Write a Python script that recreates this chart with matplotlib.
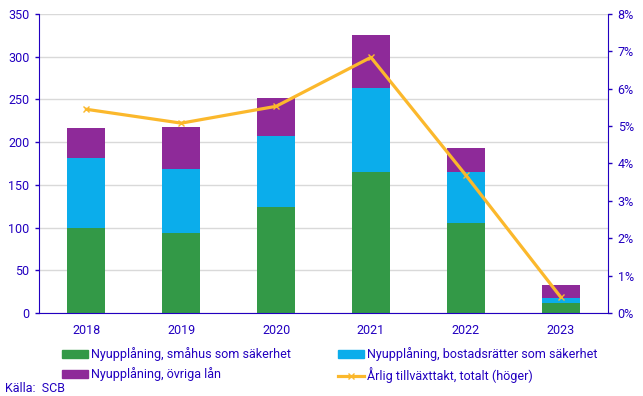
import numpy as np
import matplotlib
matplotlib.use('Agg')
import matplotlib.pyplot as plt
from matplotlib.lines import Line2D
from matplotlib.patches import Patch

plt.rcParams['font.family'] = ['Roboto', 'DejaVu Sans']

years = ['2018', '2019', '2020', '2021', '2022', '2023']
smahus = [99, 94, 124, 165, 105, 12]
bostadsratter = [82, 75, 83, 98, 60, 5]
ovriga = [35, 49, 45, 62, 28, 16]
tillvaxt = [5.45, 5.08, 5.53, 6.84, 3.69, 0.43]

blue = '#2200c0'
green = '#339947'
cyan = '#0badeb'
purple = '#8e2a99'
yellow = '#fbb82c'

fig = plt.figure(figsize=(6.43, 3.96), dpi=100)
ax = fig.add_axes([39 / 643, 1 - 313 / 396, 569 / 643, 299 / 396])

x = np.arange(len(years))
w = 0.4
b1 = np.array(smahus)
b2 = b1 + np.array(bostadsratter)
ax.bar(x, smahus, w, color=green, zorder=2)
ax.bar(x, bostadsratter, w, bottom=b1, color=cyan, zorder=2)
ax.bar(x, ovriga, w, bottom=b2, color=purple, zorder=2)

ax.set_xlim(-0.5, len(years) - 0.5)
ax.set_ylim(0, 350)
ax.set_yticks(range(0, 351, 50))
ax.set_xticks(x)
ax.set_xticklabels(years)
ax.grid(axis='y', color='#d9d9d9', linewidth=1, zorder=0)
ax.set_axisbelow(True)
for s in ['top', 'right']:
    ax.spines[s].set_visible(False)
for s in ['left', 'bottom']:
    ax.spines[s].set_color(blue)
ax.tick_params(axis='y', colors=blue, labelsize=9, length=3, width=1, pad=4)
ax.tick_params(axis='x', colors=blue, labelsize=9, length=0, pad=8)

ax2 = ax.twinx()
ax2.plot(x, tillvaxt, color=yellow, linewidth=2.3, marker='x', markersize=5,
         markeredgewidth=1, zorder=3)
ax2.set_ylim(0, 8)
ax2.set_yticks(range(0, 9))
ax2.set_yticklabels([f'{v}%' for v in range(0, 9)])
for s in ['top', 'left', 'bottom']:
    ax2.spines[s].set_visible(False)
ax2.spines['right'].set_color(blue)
ax2.tick_params(axis='y', colors=blue, labelsize=9, length=3, width=1, pad=4)

# legend in two columns, placed as two separate blocks
labels = ['Nyupplåning, småhus som säkerhet',
          'Nyupplåning, övriga lån',
          'Nyupplåning, bostadsrätter som säkerhet',
          'Årlig tillväxttakt, totalt (höger)']
handles = [Patch(color=green), Patch(color=purple), Patch(color=cyan),
           Line2D([0], [0], color=yellow, linewidth=2.3, marker='x', markersize=5)]
leg_kw = dict(loc='upper left', frameon=False, fontsize=9, handlelength=2.1,
              handleheight=0.6, handletextpad=0.25, labelspacing=0.5,
              borderaxespad=0, borderpad=0)
for i, x0 in [(0, 62), (2, 338)]:
    leg = fig.legend(handles[i:i + 2], labels[i:i + 2],
                     bbox_to_anchor=(x0 / 643, 1 - 347 / 396), **leg_kw)
    for t in leg.get_texts():
        t.set_color(blue)

fig.text(5 / 643, 1 - 388 / 396, 'Källa:  SCB', color=blue, fontsize=9, va='center')

fig.savefig('out.png', dpi=100)
